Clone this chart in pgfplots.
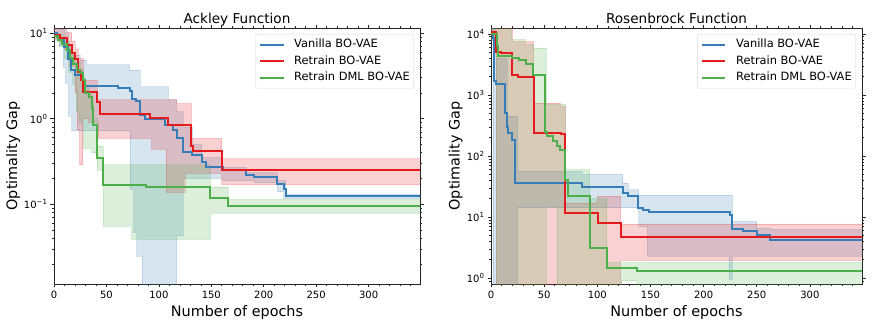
\documentclass[border=0pt]{standalone}
\usepackage{pgfplots}
\pgfplotsset{compat=1.18}
\usepackage{fontspec}
\setmainfont{DejaVu Sans}
\definecolor{cblue}{RGB}{55,126,184}
\definecolor{cred}{RGB}{228,26,28}
\definecolor{cgreen}{RGB}{77,175,74}
\newcommand\sups[1]{\raisebox{0.42em}{\fontsize{7}{8}\selectfont #1}}
\pgfplotsset{
  every axis title shift=0pt,
  legend image code/.code={\draw[#1, line width=2pt] (0pt,0pt) -- (23pt,0pt);},
  myaxis/.style={
    scale only axis, height=256pt, xmin=0, xmax=349,
    axis line style={black!85, line width=0.8pt},
    tick align=outside, tick style={black!85, line width=0.6pt},
    major tick length=3.5pt, minor tick length=2pt,
    xtick={0,50,...,300}, minor xtick={10,20,...,340},
    /pgf/number format/assume math mode=true,
    ticklabel style={font=\fontsize{10}{12}\selectfont},
    title style={at={(axis description cs:0.5,1.0195)}, anchor=base, font=\fontsize{13.6}{16}\selectfont},
    label style={font=\fontsize{14.4}{17}\selectfont},
    xlabel style={at={(axis description cs:0.5,-0.1258)}, anchor=base},
    legend cell align=left,
    legend style={at={(axis description cs:0.9836,0.9766)}, anchor=north east,
      font=\fontsize{11.4}{13.7}\selectfont, draw=black!15, rounded corners=2pt,
      fill=white, fill opacity=0.8, text opacity=1, draw opacity=1,
      inner xsep=4pt, inner ysep=5pt, column sep=9.7pt, row sep=6pt,
      nodes={inner sep=0pt, text height=8.3pt, text depth=2.4pt}},
  },
  band/.style={fill=#1, fill opacity=0.2, draw=#1, draw opacity=0.2, line width=0.8pt, forget plot},
  ln/.style={const plot, #1, line width=2pt},
}
\begin{document}
\begin{tikzpicture}
\useasboundingbox (0,0) rectangle (872pt,329pt);
% ---------------- Ackley ----------------
\begin{axis}[myaxis, ymode=log, at={(54pt,45pt)}, anchor=south west, width=366pt,
  ymin=0.0118, ymax=11.4,
  ytick={0.1,1,10}, yticklabels={10\sups{−1},10\sups{0},10\sups{1}},
  minor ytick={0.02,0.03,0.04,0.05,0.06,0.07,0.08,0.09,0.2,0.3,0.4,0.5,0.6,0.7,0.8,0.9,2,3,4,5,6,7,8,9},
  title={Ackley Function}, xlabel={Number of epochs}, ylabel={Optimality Gap},
  ylabel style={at={(axis description cs:-0.101,0.5)}, anchor=base}]
% bands: upper edge forward, lower edge backward
\addplot[band=cblue] coordinates {(0,12.5) (10,12.5) (10,10) (14,10) (14,7) (18,7) (18,5.5) (25,5.5) (25,4.8) (31,4.8) (31,4.25) (72,4.25) (72,3.7) (82,3.7) (82,2.35) (109,2.35) (109,1.66) (117,1.66) (117,1.2) (123,1.2) (123,0.8) (132,0.8) (132,0.5) (141,0.5) (141,0.35) (161,0.35) (161,0.27) (183,0.27) (183,0.235) (213,0.235) (213,0.19) (221,0.19) (221,0.13) (349,0.13)
 (349,0.117) (219,0.117) (219,0.14) (213,0.14) (213,0.18) (191,0.18) (191,0.19) (161,0.19) (161,0.2) (123,0.2) (123,0.043) (117,0.043) (117,0.005) (84,0.005) (84,0.025) (79,0.025) (79,0.047) (76,0.047) (76,0.15) (72.5,0.15) (72.5,0.72) (17,0.72) (17,1.06) (14,1.06) (14,2.6) (11,2.6) (11,4) (9,4) (9,7) (5,7) (5,9) (0,9)};
\addplot[band=cred] coordinates {(0,12) (5,12) (5,11) (12,11) (12,10) (17,10) (17,8) (20,8) (20,6.5) (23,6.5) (23,5) (28,5) (28,2.8) (41,2.8) (41,1.66) (117,1.66) (117,1.5) (131,1.5) (131,0.59) (160,0.59) (160,0.34) (349,0.34)
 (349,0.17) (160,0.17) (160,0.23) (125,0.23) (125,0.138) (107,0.138) (107,0.44) (93,0.44) (93,0.59) (42,0.59) (42,0.9) (33,0.9) (33,1.0) (27.5,1.0) (27.5,0.29) (24.5,0.29) (24.5,0.74) (22,0.74) (22,2.0) (20,2.0) (20,4.1) (15,4.1) (15,6.5) (10,6.5) (10,8) (5,8) (5,8.5) (0,8.5)};
\addplot[band=cgreen] coordinates {(0,10) (5,10) (5,9.5) (10,9.5) (10,8) (15,8) (15,6) (20,6) (20,4.5) (25,4.5) (25,3.8) (28,3.8) (28,3.0) (30,3.0) (30,2.4) (33,2.4) (33,2.0) (36,2.0) (36,1.5) (38,1.5) (38,1.0) (41.4,1.0) (41.4,0.48) (47,0.48) (47,0.29) (149,0.29) (149,0.16) (166,0.16) (166,0.114) (349,0.114)
 (349,0.079) (149,0.079) (149,0.039) (74,0.039) (74,0.056) (47,0.056) (47,0.25) (41,0.25) (41,0.4) (36,0.4) (36,0.45) (28,0.45) (28,0.9) (24,0.9) (24,1.2) (21,1.2) (21,2.5) (18,2.5) (18,3.5) (14,3.5) (14,5) (10,5) (10,7) (5,7) (5,8) (0,8)};
% lines
\addplot[ln=cblue] coordinates {(0,10.1) (3,9.0) (6,8.3) (10,6.9) (13,4.9) (16,3.7) (20,3.25) (26,2.8) (30,2.38) (61,2.27) (72,2.08) (74,1.7) (78,1.6) (82,1.11) (87,1.0) (106,0.85) (113,0.74) (117,0.60) (123,0.41) (132,0.38) (141,0.31) (145,0.27) (161,0.255) (183,0.22) (191,0.206) (213,0.171) (219,0.15) (221,0.124) (349,0.124)};
\addlegendentry{Vanilla BO-VAE}
\addplot[ln=cred] coordinates {(0,9.5) (5.7,8.7) (12,7.2) (17,5.9) (20,4.9) (23,3.5) (25.5,2.8) (28,2.06) (40.7,1.58) (44,1.13) (92,1.02) (109,0.85) (131,0.48) (133,0.42) (160,0.255) (349,0.255)};
\addlegendentry{Retrain BO-VAE}
\addplot[ln=cgreen] coordinates {(0,9.1) (4,8.3) (8,7.5) (12,6.4) (15,5.1) (18,4.3) (22,3.7) (25,3.4) (28,2.85) (30,2.0) (33,1.8) (36,1.33) (37.5,0.85) (41.4,0.35) (47,0.17) (88,0.159) (149,0.119) (166,0.095) (349,0.095)};
\addlegendentry{Retrain DML BO-VAE}
\end{axis}
% ---------------- Rosenbrock ----------------
\begin{axis}[myaxis, ymode=log, at={(491pt,45pt)}, anchor=south west, width=371pt,
  ymin=0.80, ymax=12540,
  ytick={1,10,100,1000,10000}, yticklabels={10\sups{0},10\sups{1},10\sups{2},10\sups{3},10\sups{4}},
  minor ytick={0.9,2,3,4,5,6,7,8,9,20,30,40,50,60,70,80,90,200,300,400,500,600,700,800,900,2000,3000,4000,5000,6000,7000,8000,9000},
  title={Rosenbrock Function}, xlabel={Number of epochs}, ylabel={Optimality Gap},
  ylabel style={at={(axis description cs:-0.0848,0.5)}, anchor=base}]
\addplot[band=cblue] coordinates {(0,15000) (4,15000) (4,4000) (15,4000) (15,450) (25,450) (25,56) (86,56) (86,50) (124,50) (124,36) (129,36) (129,28) (139,28) (139,23) (227,23) (227,8.5) (250,8.5) (250,6.5) (263,6.5) (263,6.2) (349,6.2)
 (349,2.3) (227,2.3) (227,0.95) (224,0.95) (224,2.3) (147,2.3) (147,7) (139,7) (139,14.2) (25,14.2) (25,0.5) (2,0.5) (2,8000) (0,8000)};
\addplot[band=cred] coordinates {(0,15000) (20,15000) (20,7500) (40,7500) (40,740) (65,740) (65,650) (70,650) (70,17) (100,17) (100,22) (122,22) (122,7.7) (349,7.7)
 (349,1.95) (122,1.95) (122,0.5) (5,0.5) (5,8000) (0,8000)};
\addplot[band=cgreen] coordinates {(0,15000) (19.5,15000) (19.5,8100) (32,8100) (32,6700) (40,6700) (40,5900) (52,5900) (52,700) (70,700) (70,60) (93,60) (93,20) (109,20) (109,1.8) (349,1.8)
 (349,0.5) (137,0.5) (137,0.9) (123,0.9) (123,0.5) (62,0.5) (62,15) (52,15) (52,0.5) (5,0.5) (5,8000) (0,8000)};
\addplot[ln=cblue] coordinates {(0,10000) (1.5,8500) (3,1700) (4.5,1500) (13.2,500) (14.8,300) (16.3,240) (19.5,180) (22.6,36) (86,31) (124,24.7) (129,21.8) (138,14) (143,12.9) (149,12.1) (225,11) (227,6.3) (237,5.9) (250,5.1) (262,4.2) (349,4.2)};
\addlegendentry{Vanilla BO-VAE}
\addplot[ln=cred] coordinates {(0,10800) (5,5100) (9.4,4900) (19.5,2150) (25,2000) (40,240) (66,230) (69.5,11.6) (100.5,8.1) (122,4.7) (349,4.7)};
\addlegendentry{Retrain BO-VAE}
\addplot[ln=cgreen] coordinates {(0,10000) (5.5,6300) (7,4400) (20,4000) (26,3700) (33,3200) (39.5,2150) (50.5,245) (53,215) (58,175) (62,145) (65,127) (70,41) (72,22.3) (93,3.1) (109,1.44) (137.5,1.29) (349,1.29)};
\addlegendentry{Retrain DML BO-VAE}
\end{axis}
\end{tikzpicture}
\end{document}
